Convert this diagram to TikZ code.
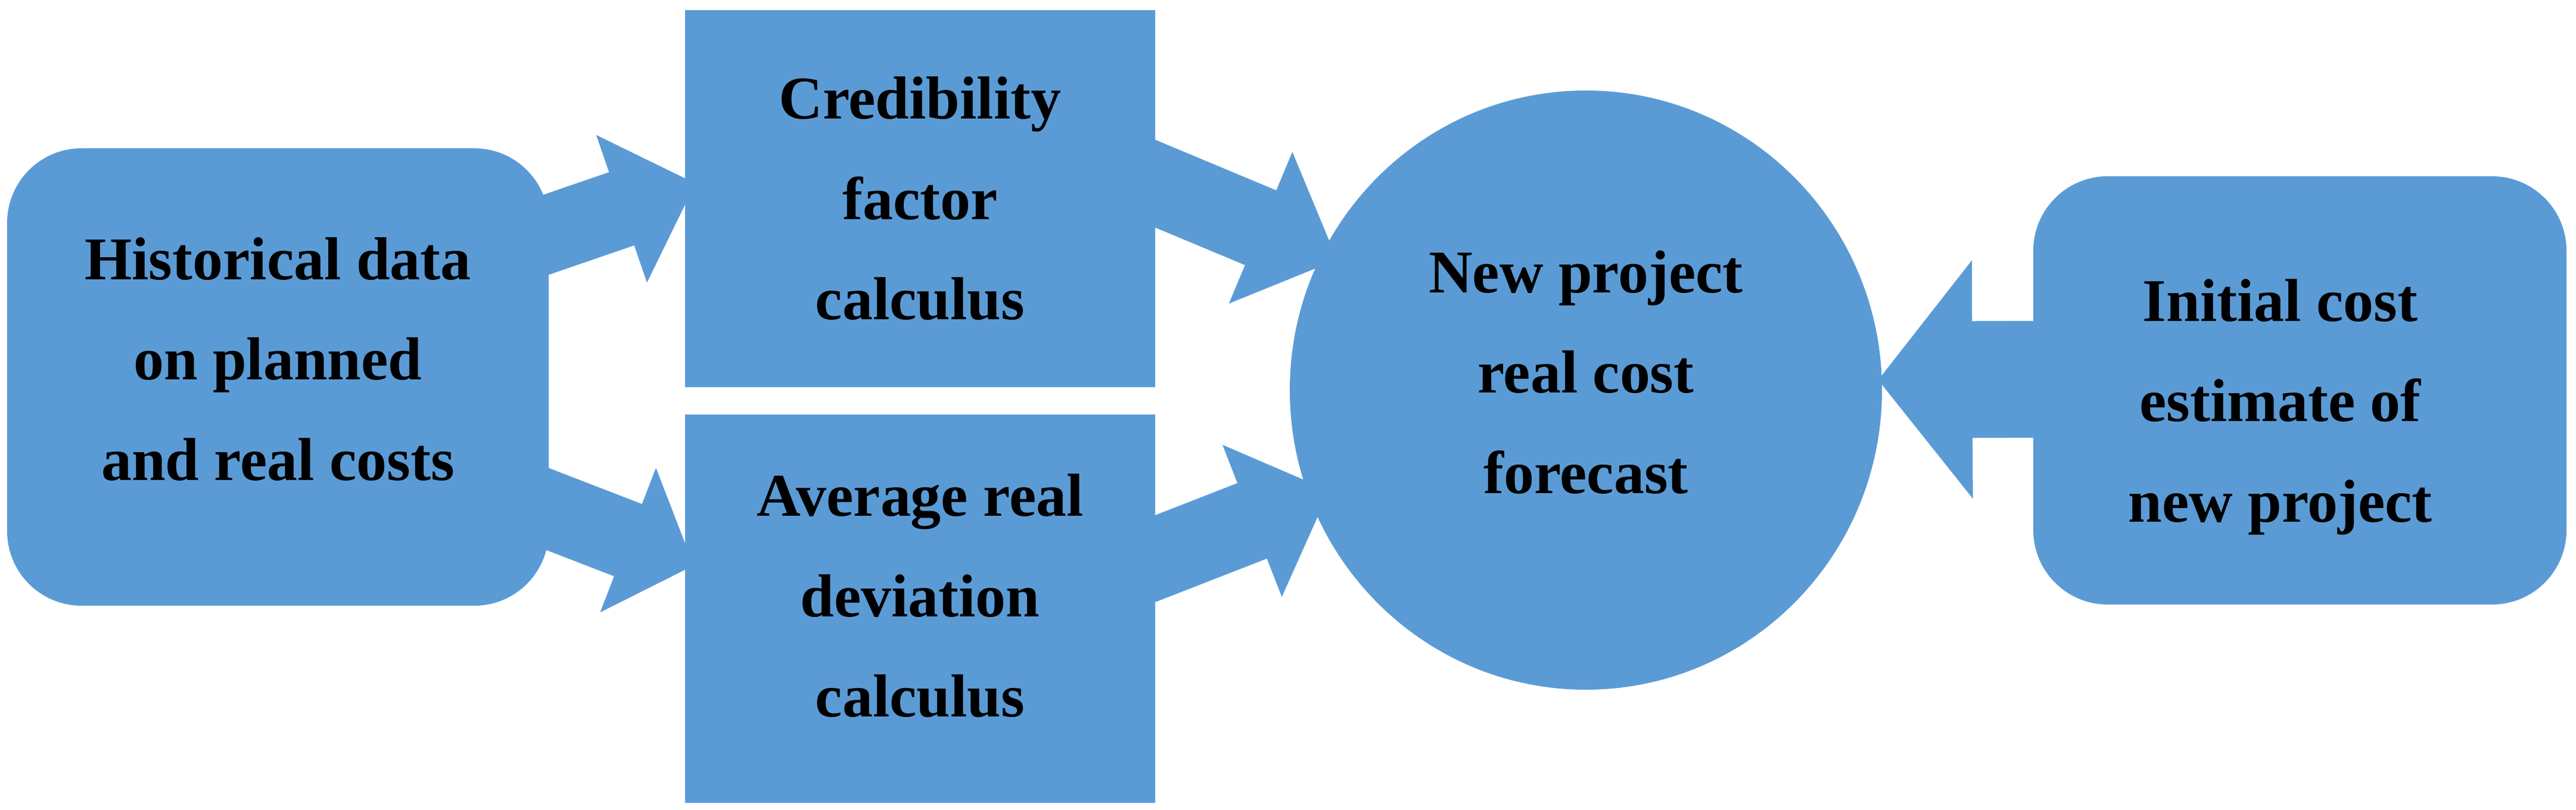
\documentclass[tikz,border=0pt]{standalone}
\usepackage{fontspec}
\setmainfont{Liberation Serif}
\usepackage{tikz}
\usetikzlibrary{shapes.geometric,positioning,calc,backgrounds}

\definecolor{boxblue}{RGB}{91,155,213}

\tikzset{
  blk/.style={fill=boxblue, rectangle, inner sep=0pt},
  rblk/.style={blk, rounded corners=1.25cm},
  txt/.style={align=center, inner sep=0pt, font=\fontsize{29}{48}\selectfont\bfseries},
  fat/.style={fill=boxblue},
}

% block arrow: tail, tip, half shaft, half head, head length
\newcommand{\fatarrow}[5]{%
  \coordinate (h) at ($(#2)!#5!(#1)$);
  \fill[fat] ($(#1)!#3!90:(#2)$) -- ($(h)!#3!90:(#2)$) -- ($(h)!#4!90:(#2)$) -- (#2)
    -- ($(h)!#4!-90:(#2)$) -- ($(h)!#3!-90:(#2)$) -- ($(#1)!#3!-90:(#2)$) -- cycle;
}

\begin{document}
\begin{tikzpicture}
    \useasboundingbox (0,0) rectangle (43.24,13.6);

    % Boxes
    \node [rblk, minimum width=9.09cm, minimum height=7.68cm] (hist) at (4.665,7.27) {};
    \node [blk, minimum width=7.89cm, minimum height=6.33cm] (cred) at (15.445,10.265) {};
    \node [blk, minimum width=7.89cm, minimum height=6.52cm, below=0.45cm of cred] (avg) {};
    \node [blk, ellipse, minimum width=9.94cm, minimum height=10.06cm] (fcst) at (26.62,7.05) {};
    \node [rblk, minimum width=8.95cm, minimum height=7.19cm] (init) at (38.605,7.045) {};

    % Texts
    \node [txt] (histtxt) at ([yshift=0.3cm]hist.center) {Historical data\\on planned\\and real costs};
    \node [txt] (credtxt) at (cred.center) {Credibility\\factor\\calculus};
    \node [txt] (avgtxt) at ([yshift=0.22cm]avg.center) {Average real\\deviation\\calculus};
    \node [txt] (fcsttxt) at ([yshift=0.3cm]fcst.center) {New project\\real cost\\forecast};
    \node [txt] (inittxt) at ([shift={(-0.33,-0.28)}]init.center) {Initial cost\\estimate of\\new project};

    % Arrow ends
    \coordinate (t1) at ([shift={(-1.21,1.99)}]hist.east);
    \coordinate (p1) at ([shift={(0.18,0.255)}]cred.west);
    \coordinate (t2) at ([shift={(-1.21,-1.76)}]hist.east);
    \coordinate (p2) at ([shift={(0.15,0.73)}]avg.west);
    \coordinate (t3) at ([shift={(-1.39,0.83)}]cred.east);
    \coordinate (p3) at ([shift={(0.80,2.19)}]fcst.west);
    \coordinate (t4) at ([shift={(-1.39,0.304)}]avg.east);
    \coordinate (p4) at ([shift={(0.67,-1.69)}]fcst.west);
    \coordinate (t5) at ([shift={(1.87,0.195)}]init.west);
    \coordinate (p5) at ([shift={(-0.07,0.17)}]fcst.east);

    % Arrows
    \begin{scope}[on background layer]
        \fatarrow{t1}{p1}{0.65cm}{1.31cm}{1.31cm}
        \fatarrow{t2}{p2}{0.65cm}{1.30cm}{1.18cm}
        \fatarrow{t3}{p3}{0.68cm}{1.38cm}{1.39cm}
        \fatarrow{t4}{p4}{0.68cm}{1.37cm}{1.39cm}
        \fatarrow{t5}{p5}{0.98cm}{2.0cm}{1.58cm}
    \end{scope}

\end{tikzpicture}
\end{document}
